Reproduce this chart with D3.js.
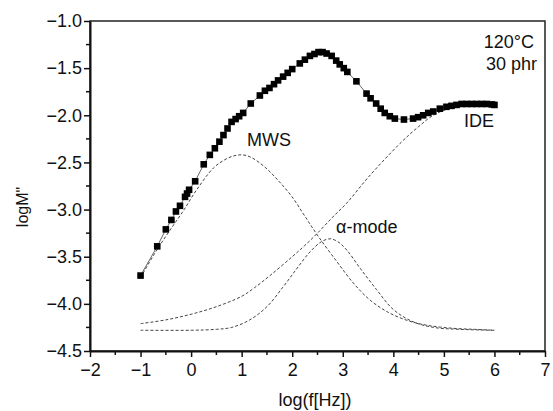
<!DOCTYPE html>
<html>
<head>
<meta charset="utf-8">
<script src="https://cdn.jsdelivr.net/npm/d3@7"></script>
<style>
  body { margin: 0; background: #fff; }
  svg text { font-family: "Liberation Sans", Arial, sans-serif; fill: #111; }
</style>
</head>
<body>
<div id="chart"></div>
<script>
// measured points (log f, log M'')
var dataX = [-1, -0.67, -0.5, -0.39, -0.30, -0.22, -0.12, -0.08, -0.04, 0.08, 0.25, 0.37, 0.47, 0.56, 0.64, 0.72, 0.80, 0.88, 0.95, 1.03, 1.18, 1.36, 1.46, 1.55, 1.64, 1.72, 1.82, 1.91, 2.00, 2.15, 2.25, 2.35, 2.44, 2.52, 2.60, 2.68, 2.78, 2.87, 2.94, 3.02, 3.09, 3.27, 3.47, 3.55, 3.66, 3.75, 3.83, 3.93, 4.03, 4.21, 4.39, 4.49, 4.59, 4.69, 4.79, 4.92, 5.05, 5.15, 5.25, 5.35, 5.45, 5.55, 5.65, 5.75, 5.85, 5.95, 6.0]
var dataY = [-3.70, -3.39, -3.21, -3.11, -3.02, -2.96, -2.865, -2.83, -2.79, -2.70, -2.52, -2.42, -2.35, -2.28, -2.21, -2.14, -2.07, -2.04, -2.01, -1.975, -1.875, -1.79, -1.74, -1.71, -1.67, -1.63, -1.59, -1.55, -1.51, -1.45, -1.41, -1.37, -1.35, -1.33, -1.33, -1.345, -1.37, -1.42, -1.46, -1.50, -1.54, -1.64, -1.77, -1.82, -1.875, -1.93, -1.975, -2.01, -2.035, -2.045, -2.035, -2.02, -2.00, -1.975, -1.96, -1.93, -1.91, -1.90, -1.89, -1.88, -1.88, -1.88, -1.88, -1.88, -1.88, -1.885, -1.89]

// fitted components
var mwsX = [-1, -0.68, -0.42, -0.15, 0.11, 0.44, 0.67, 0.85, 1.03, 1.2, 1.46, 1.72, 1.99, 2.25, 2.51, 2.88, 3.21, 3.54, 3.9, 4.3, 4.7, 5.2, 5.6, 6.0]
var mwsY = [-3.72, -3.43, -3.22, -3.01, -2.79, -2.56, -2.47, -2.43, -2.42, -2.45, -2.55, -2.69, -2.86, -3.07, -3.28, -3.55, -3.78, -3.96, -4.09, -4.18, -4.23, -4.26, -4.27, -4.28]

var alphaX = [-1, 0, 0.5, 0.8, 1.16, 1.5, 1.82, 2.1, 2.35, 2.58, 2.75, 2.9, 3.08, 3.34, 3.67, 4.0, 4.39, 4.8, 5.3, 6.0]
var alphaY = [-4.28, -4.28, -4.27, -4.25, -4.17, -4.03, -3.82, -3.62, -3.45, -3.34, -3.31, -3.34, -3.43, -3.62, -3.85, -4.06, -4.19, -4.25, -4.27, -4.28]

var ideX = [-1, -0.5, 0, 0.5, 1, 1.25, 1.56, 2.0, 2.25, 2.5, 2.8, 3.08, 3.5, 4.13, 4.5, 4.79, 5.1, 5.5, 6.0]
var ideY = [-4.21, -4.17, -4.11, -4.03, -3.92, -3.83, -3.70, -3.50, -3.38, -3.25, -3.08, -2.93, -2.66, -2.30, -2.12, -2.0, -1.93, -1.89, -1.885]

var xTicks = [-2, -1, 0, 1, 2, 3, 4, 5, 6, 7]
var yTicks = [-4.5, -4.0, -3.5, -3.0, -2.5, -2.0, -1.5, -1.0]

var width = 553, height = 411,
    margins = {top: 21, right: 8, bottom: 60, left: 90},
    plotW = width - margins.left - margins.right,
    plotH = height - margins.top - margins.bottom

var x = d3.scaleLinear().domain([-2, 7]).range([margins.left, margins.left + plotW])
var y = d3.scaleLinear().domain([-4.5, -1]).range([margins.top + plotH, margins.top])

var svg = d3.select('#chart').append('svg')
    .attr('width', width)
    .attr('height', height)

// frame
svg.append('rect')
    .attr('x', x(-2)).attr('y', y(-1))
    .attr('width', x(7) - x(-2)).attr('height', y(-4.5) - y(-1))
    .attr('fill', 'none').attr('stroke', '#222').attr('stroke-width', 1.5)

// minor ticks
var xMinor = d3.range(-1.5, 7, 1), yMinor = d3.range(-4.25, -1, 0.5)
svg.append('g').selectAll('line').data(xMinor).join('line')
    .attr('x1', d => x(d)).attr('x2', d => x(d))
    .attr('y1', y(-4.5)).attr('y2', y(-4.5) + 4)
    .attr('stroke', '#111').attr('stroke-width', 1.5)
svg.append('g').selectAll('line').data(yMinor).join('line')
    .attr('x1', x(-2) - 4).attr('x2', x(-2))
    .attr('y1', d => y(d)).attr('y2', d => y(d))
    .attr('stroke', '#111').attr('stroke-width', 1.5)

var xAxis = svg.append('g')
    .attr('transform', 'translate(0,' + y(-4.5) + ')')
    .call(d3.axisBottom(x).tickValues(xTicks).tickFormat(d3.format('d')).tickSize(6).tickSizeOuter(0).tickPadding(6))
var yAxis = svg.append('g')
    .attr('transform', 'translate(' + x(-2) + ',0)')
    .call(d3.axisLeft(y).tickValues(yTicks).tickFormat(d3.format('.1f')).tickSize(6).tickSizeOuter(0).tickPadding(2))

;[xAxis, yAxis].forEach(function(g) {
    g.select('.domain').attr('stroke', '#111').attr('stroke-width', 2)
    g.selectAll('.tick line').attr('stroke', '#111').attr('stroke-width', 1.5)
    g.selectAll('.tick text').attr('font-size', 18).attr('fill', '#111')
        .style('font-family', '"Liberation Sans", Arial, sans-serif')
})

// fitted curves
var curveLine = d3.line()
    .x(d => x(d[0])).y(d => y(d[1]))
    .curve(d3.curveCatmullRom)

;[[mwsX, mwsY], [alphaX, alphaY], [ideX, ideY]].forEach(function(c) {
    svg.append('path')
        .datum(d3.zip(c[0], c[1]))
        .attr('d', curveLine)
        .attr('fill', 'none')
        .attr('stroke', '#444')
        .attr('stroke-width', 1)
        .attr('stroke-dasharray', '3,2')
})

// measured data
var pts = d3.zip(dataX, dataY)
svg.append('path')
    .datum(pts)
    .attr('d', d3.line().x(d => x(d[0])).y(d => y(d[1])))
    .attr('fill', 'none').attr('stroke', '#666').attr('stroke-width', 1)

svg.append('g').selectAll('rect').data(pts).join('rect')
    .attr('x', d => x(d[0]) - 3.3).attr('y', d => y(d[1]) - 3.3)
    .attr('width', 6.6).attr('height', 6.6)
    .attr('fill', '#000')

// annotations
var notes = [
    {t: 'MWS', x: 247, y: 146, a: 'start'},
    {t: 'IDE', x: 464, y: 127, a: 'start'},
    {t: 'α-mode', x: 336, y: 233, a: 'start'},
    {t: '120°C', x: 534, y: 48, a: 'end'},
    {t: '30 phr', x: 537, y: 70, a: 'end'}
]
svg.append('g').selectAll('text').data(notes).join('text')
    .attr('x', d => d.x).attr('y', d => d.y)
    .attr('text-anchor', d => d.a)
    .attr('font-size', 18)
    .text(d => d.t)

svg.append('text')
    .attr('x', 315).attr('y', 406)
    .attr('text-anchor', 'middle')
    .attr('font-size', 18)
    .text('log(f[Hz])')

svg.append('text')
    .attr('transform', 'translate(28,207) rotate(-90)')
    .attr('text-anchor', 'middle')
    .attr('font-size', 16)
    .text('logM"')
</script>
</body>
</html>
